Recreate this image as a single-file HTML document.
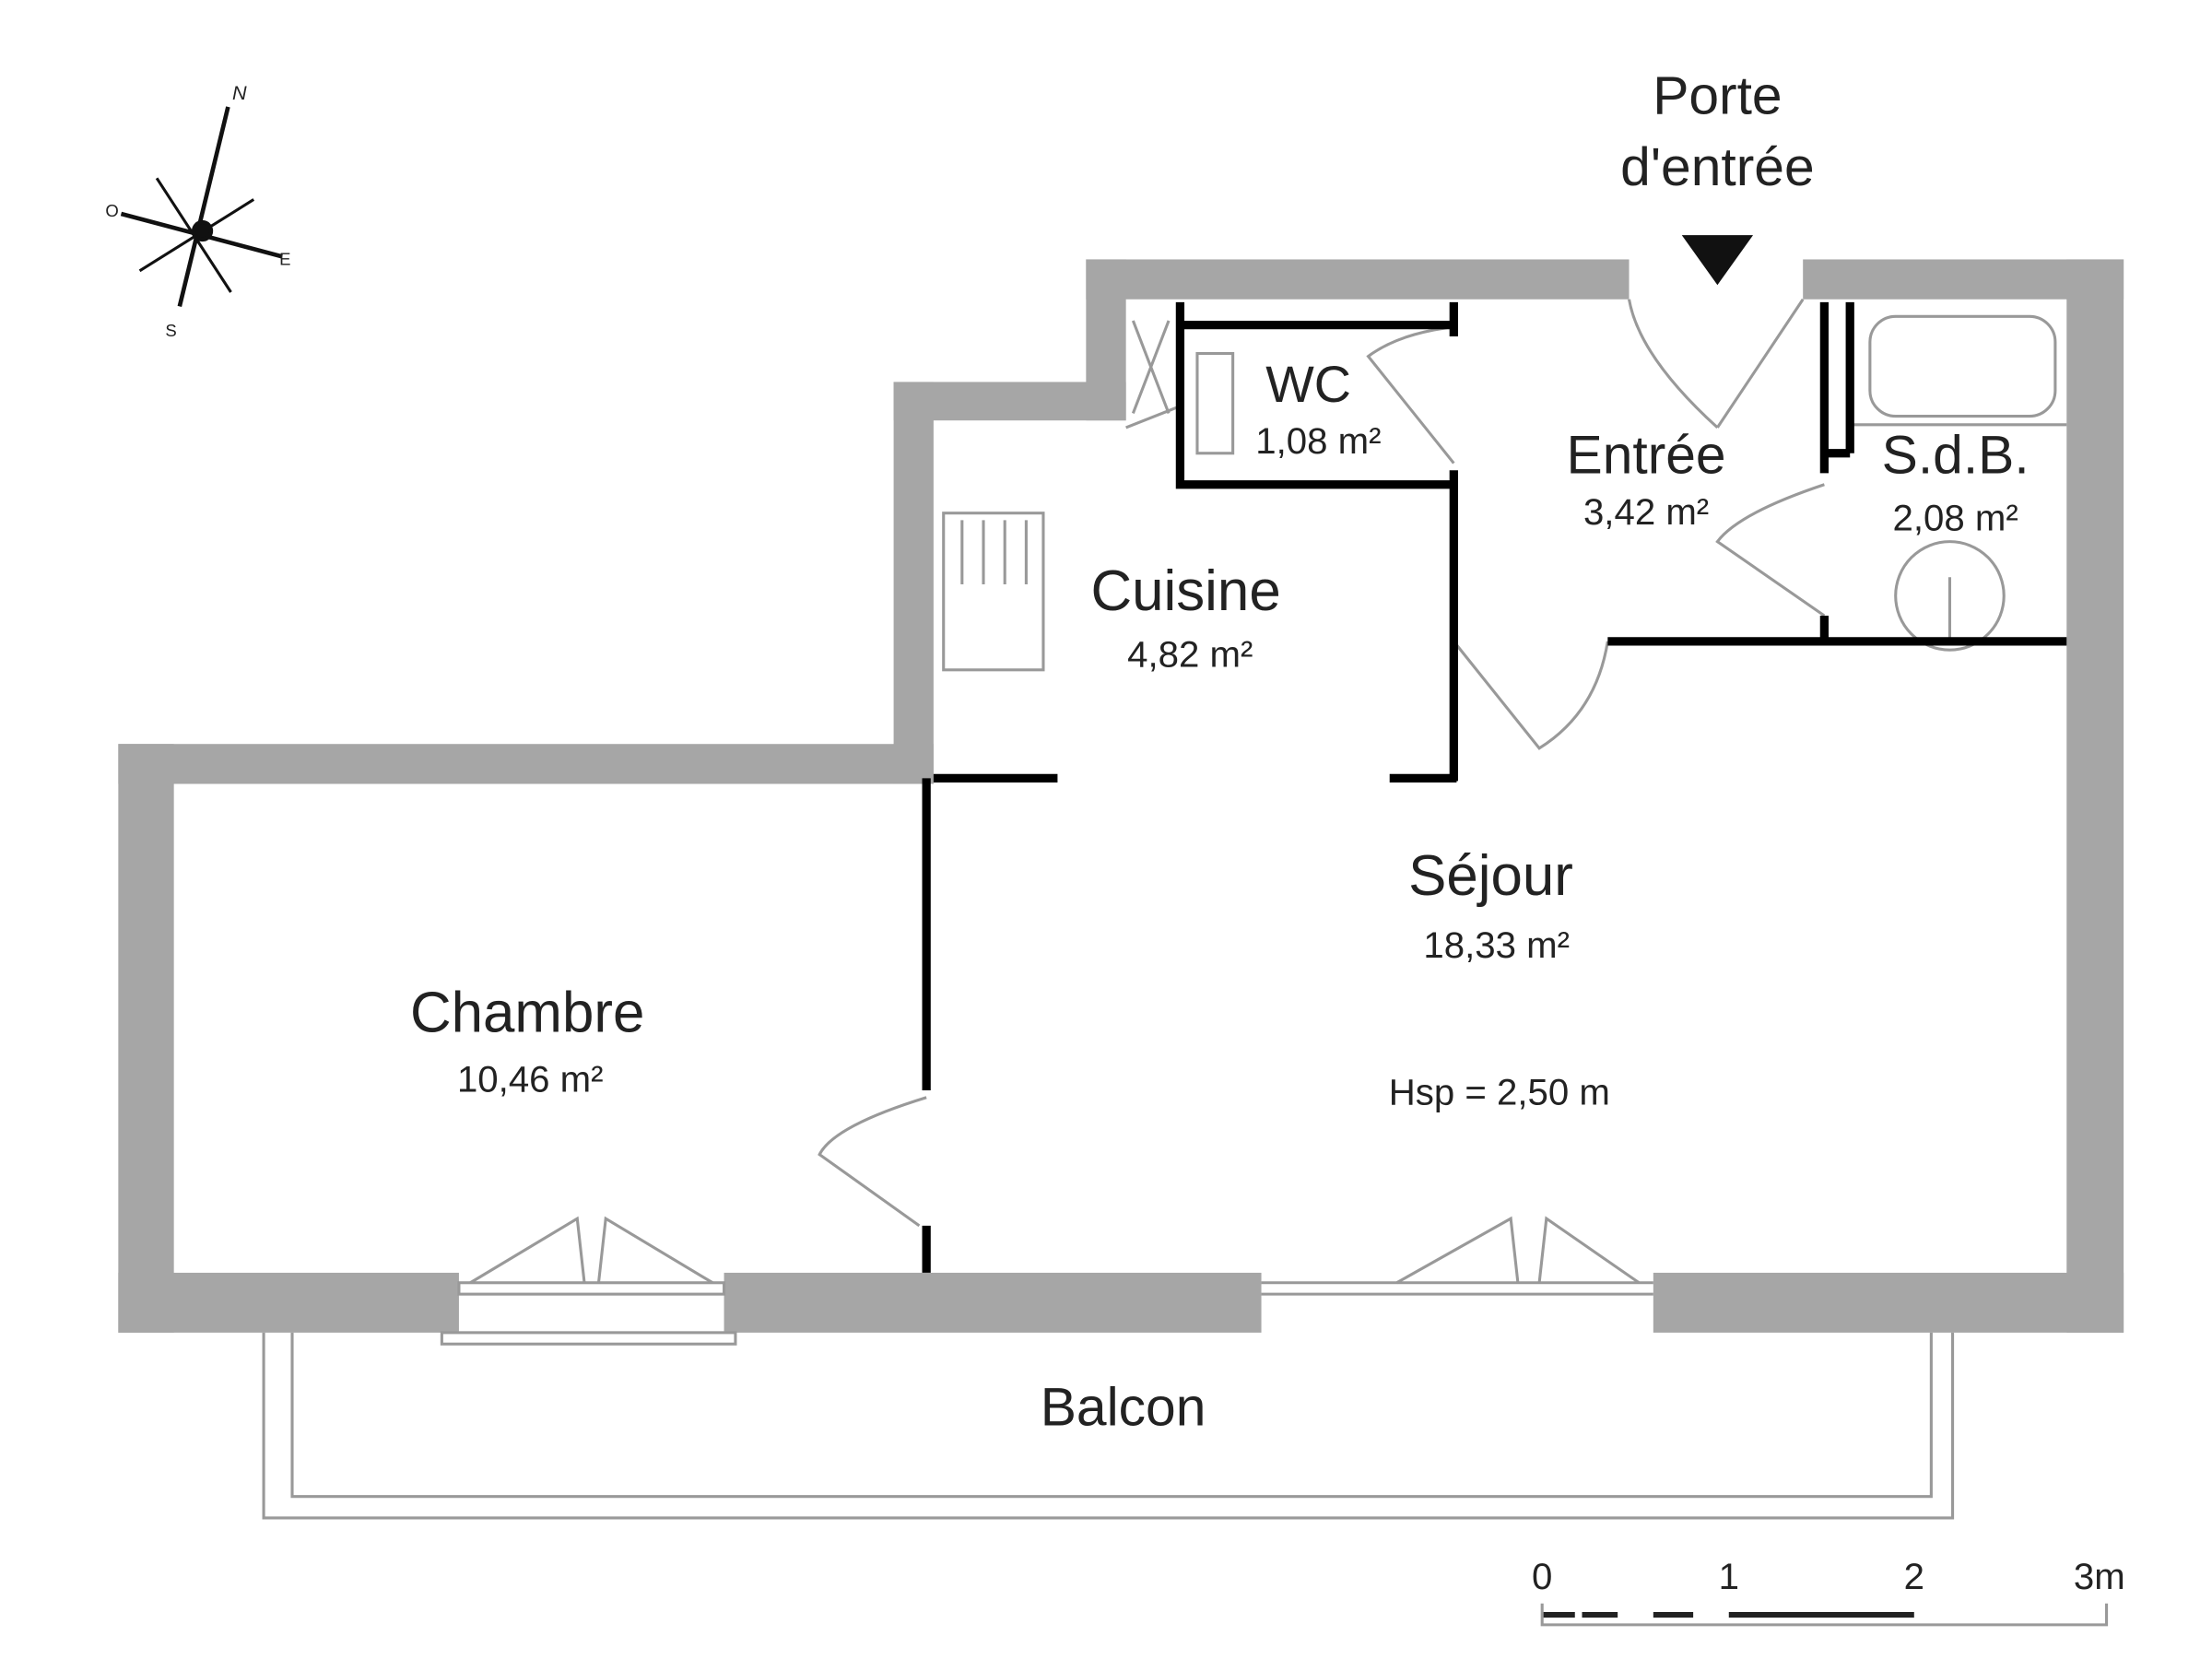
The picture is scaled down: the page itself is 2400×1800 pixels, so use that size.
<!DOCTYPE html>
<html><head><meta charset="utf-8"><style>
html,body{margin:0;padding:0;background:#fff;}
svg{display:block;}
text{font-family:"Liberation Sans",sans-serif;fill:#222;}
</style></head><body>
<svg width="2400" height="1800" viewBox="0 0 1552 1164" xmlns="http://www.w3.org/2000/svg">
<rect width="1552" height="1164" fill="#fff"/>
<!-- compass -->
<g stroke="#111" stroke-width="3" fill="#111">
<line x1="160" y1="75" x2="126" y2="215"/>
<line x1="85" y1="150" x2="198" y2="180"/>
<line x1="110" y1="125" x2="162" y2="205" stroke-width="2"/>
<line x1="178" y1="140" x2="98" y2="190" stroke-width="2"/>
<circle cx="142" cy="162" r="6"/>
</g>
<text x="163" y="70" font-size="14" font-style="italic">N</text>
<text x="74" y="152" font-size="12">O</text>
<text x="196" y="186" font-size="12">E</text>
<text x="116" y="236" font-size="12">S</text>
<!-- walls -->
<g fill="#a6a6a6">
<rect x="83" y="522" width="572" height="28"/>
<rect x="83" y="522" width="39" height="413"/>
<rect x="627" y="268" width="28" height="282"/>
<rect x="627" y="268" width="163" height="27"/>
<rect x="762" y="182" width="28" height="113"/>
<rect x="762" y="182" width="381" height="28"/>
<rect x="1265" y="182" width="225" height="28"/>
<rect x="1450" y="182" width="40" height="753"/>
<rect x="83" y="893" width="239" height="42"/>
<rect x="508" y="893" width="377" height="42"/>
<rect x="1160" y="893" width="330" height="42"/>
</g>
<!-- windows / balcony -->
<g fill="none" stroke="#999" stroke-width="2">
<rect x="322" y="900" width="186" height="8"/>
<rect x="310" y="935" width="206" height="8"/>
<line x1="885" y1="900" x2="1160" y2="900"/>
<line x1="885" y1="908" x2="1160" y2="908"/>
<path d="M185 935 V1065 H1370 V935"/>
<path d="M205 935 V1050 H1355 V935"/>
<path d="M330 900 L405 855 L410 900 M500 900 L425 855 L420 900"/>
<path d="M980 900 L1060 855 L1065 900 M1150 900 L1085 855 L1080 900"/>
<path d="M650 770 Q585 790 575 810 L645 860"/>
<path d="M1143 210 Q1150 250 1205 300 M1265 210 L1205 300"/>
<path d="M1280 340 Q1220 360 1205 380 L1280 432"/>
<path d="M1020 450 L1080 525 Q1120 500 1128 450"/>
<path d="M1020 325 L960 250 Q980 235 1015 230"/>
<path d="M795 225 L820 290 M820 225 L795 290 M790 300 L828 285"/>
<rect x="840" y="248" width="25" height="70"/>
<rect x="662" y="360" width="70" height="110"/>
<path d="M675 365 V410 M690 365 V410 M705 365 V410 M720 365 V410"/>
<rect x="1312" y="222" width="130" height="70" rx="18"/>
<line x1="1298" y1="298" x2="1450" y2="298"/>
<circle cx="1368" cy="418" r="38"/>
<line x1="1368" y1="405" x2="1368" y2="450"/>
</g>
<!-- interior partitions -->
<g stroke="#000" stroke-width="6" fill="none">
<path d="M828 212 V340 H1020"/>
<line x1="828" y1="228" x2="1020" y2="228"/>
<line x1="1020" y1="212" x2="1020" y2="236"/>
<line x1="1020" y1="330" x2="1020" y2="548"/>
<line x1="975" y1="546" x2="1022" y2="546"/>
<line x1="655" y1="546" x2="742" y2="546"/>
<line x1="650" y1="546" x2="650" y2="765"/>
<line x1="650" y1="860" x2="650" y2="893"/>
<line x1="1128" y1="450" x2="1450" y2="450"/>
<line x1="1280" y1="212" x2="1280" y2="332"/>
<line x1="1298" y1="212" x2="1298" y2="318"/>
<line x1="1280" y1="318" x2="1298" y2="318"/>
<line x1="1280" y1="432" x2="1280" y2="450"/>
</g>
<polygon points="1180,165 1230,165 1205,200" fill="#111"/>
<!-- labels -->
<g text-anchor="middle">
<text x="1205" y="80" font-size="38">Porte</text>
<text x="1205" y="130" font-size="38">d'entrée</text>
<text x="918" y="282" font-size="36">WC</text>
<text x="925" y="318" font-size="26">1,08 m²</text>
<text x="1155" y="332" font-size="38">Entrée</text>
<text x="1155" y="368" font-size="26">3,42 m²</text>
<text x="1372" y="332" font-size="38">S.d.B.</text>
<text x="1372" y="372" font-size="26">2,08 m²</text>
<text x="832" y="428" font-size="40">Cuisine</text>
<text x="835" y="468" font-size="26">4,82 m²</text>
<text x="1046" y="628" font-size="40">Séjour</text>
<text x="1050" y="672" font-size="26">18,33 m²</text>
<text x="1052" y="775" font-size="26">Hsp = 2,50 m</text>
<text x="370" y="724" font-size="40">Chambre</text>
<text x="372" y="766" font-size="26">10,46 m²</text>
<text x="788" y="1000" font-size="38">Balcon</text>
</g>
<!-- scale -->
<g font-size="26" text-anchor="middle">
<text x="1082" y="1115">0</text><text x="1213" y="1115">1</text><text x="1343" y="1115">2</text><text x="1473" y="1115">3m</text>
</g>
<g stroke="#222" stroke-width="4">
<line x1="1082" y1="1133" x2="1105" y2="1133"/>
<line x1="1110" y1="1133" x2="1135" y2="1133"/>
<line x1="1160" y1="1133" x2="1188" y2="1133"/>
<line x1="1213" y1="1133" x2="1343" y2="1133"/>
</g>
<path d="M1082 1125 V1140 H1478 V1125" fill="none" stroke="#999" stroke-width="2"/>
</svg>
</body></html>
